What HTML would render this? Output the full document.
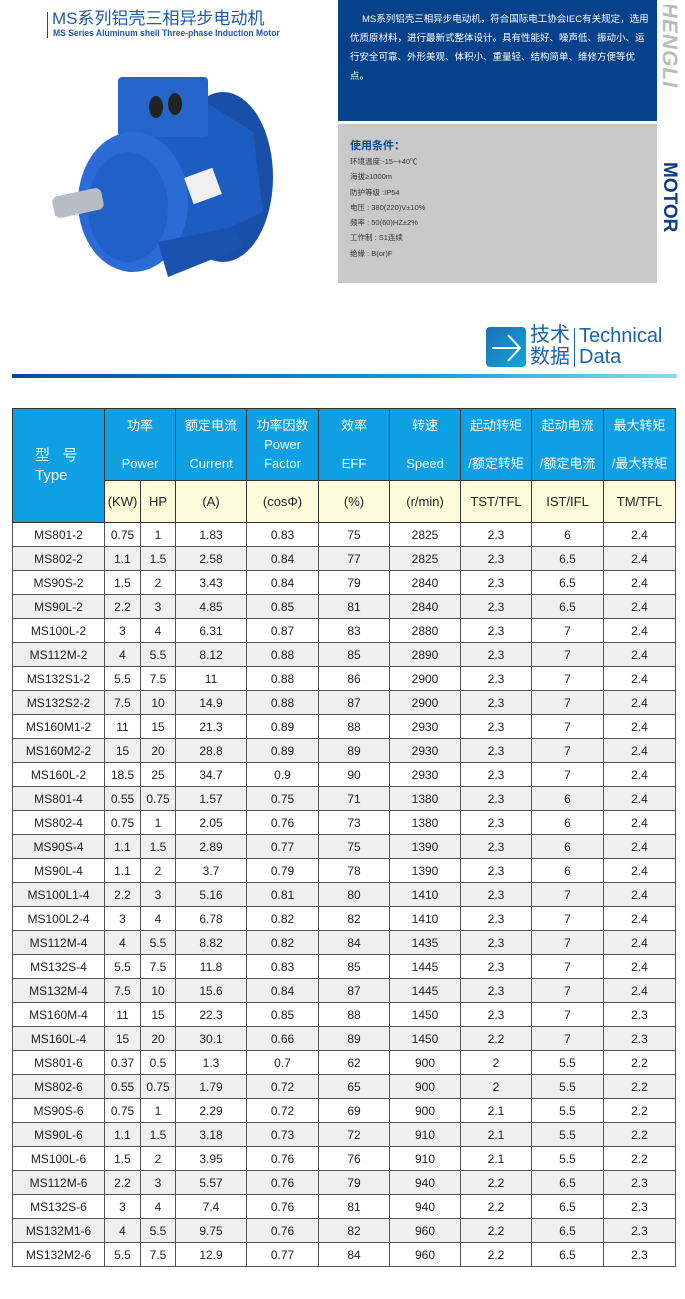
<!DOCTYPE html>
<html><head><meta charset="utf-8"><style>
*{margin:0;padding:0;box-sizing:border-box}
body{width:685px;height:1299px;background:#fff;position:relative;overflow:hidden;font-family:"Liberation Sans","Noto Sans CJK SC",sans-serif}
.abs{position:absolute}
table{position:absolute;left:12px;top:408px;width:663px;border-collapse:collapse;table-layout:fixed}
td{border:1px solid #555;text-align:center;font-size:12px;color:#222;padding:0;white-space:nowrap;line-height:14px}
tr.h1 td{background:#0ea0e2;color:#fff;font-size:13px;line-height:19px;border-color:#333}
tr.h2 td{background:#fdfbd9;color:#222;font-size:13px;border-color:#333}
tbody.d td{height:24px}
tbody.d tr:nth-child(even) td{background:#efefef}
</style></head><body>
<div class="abs" style="left:47px;top:12px;width:1px;height:26px;background:#444"></div>
<div class="abs" style="left:52px;top:9px;font-size:17px;line-height:20px;color:#1f5aa6">MS系列铝壳三相异步电动机</div>
<div class="abs" style="left:53px;top:29px;font-size:9.5px;line-height:10px;color:#1f5aa6;font-weight:bold;transform:scaleX(.9);transform-origin:left">MS Series Aluminum shell Three-phase Induction Motor</div>
<svg class="abs" style="left:48px;top:62px" width="230" height="220" viewBox="0 0 230 220">
<ellipse cx="175" cy="115" rx="50" ry="85" fill="#1a4fa8"/>
<path d="M40 110 L150 35 L205 70 L215 150 L130 190 Z" fill="#1d5cc0"/>
<rect x="70" y="15" width="90" height="60" rx="4" fill="#2565c9"/>
<ellipse cx="108" cy="45" rx="7" ry="11" fill="#222"/><ellipse cx="127" cy="42" rx="7" ry="11" fill="#222"/>
<ellipse cx="85" cy="140" rx="55" ry="70" fill="#2a6bd6"/>
<ellipse cx="80" cy="145" rx="40" ry="55" fill="#2060c8"/>
<rect x="140" y="110" width="30" height="28" fill="#f0f0f0" transform="rotate(-20 155 124)"/>
<rect x="5" y="130" width="50" height="22" rx="6" fill="#b8bcc4" transform="rotate(-12 30 141)"/>
<path d="M110 180 L185 165 L195 185 L120 215 Z" fill="#1a52b0"/>
</svg>
<div class="abs" style="left:338px;top:0;width:319px;height:121px;background:#06418c"></div>
<div class="abs" style="left:350px;top:10px;width:300px;font-size:9.5px;line-height:19px;color:#fff;text-indent:12px">MS系列铝壳三相异步电动机，符合国际电工协会IEC有关规定，选用优质原材料，进行最新式整体设计。具有性能好、噪声低、振动小、运行安全可靠、外形美观、体积小、重量轻、结构简单、维修方便等优点。</div>
<div class="abs" style="left:338px;top:124px;width:319px;height:159px;background:#c9c9c9"></div>
<div class="abs" style="left:350px;top:137px;font-size:11px;color:#0a4a96;font-weight:bold">使用条件：</div>
<div class="abs" style="left:350px;top:154px;font-size:7.5px;line-height:15.3px;color:#333">环境温度:-15~+40℃<br>海拔≥1000m<br>防护等级 :IP54<br>电压 : 380(220)V±10%<br>频率 : 50(60)HZ±2%<br>工作制 : S1连续<br>绝缘 : B(or)F</div>
<div class="abs" style="left:658px;top:5px;width:24px;height:108px;overflow:hidden"><div style="transform:rotate(90deg) skewX(-10deg);transform-origin:0 0;position:absolute;left:23px;top:0;font-size:21px;font-weight:bold;color:#bbb;white-space:nowrap;letter-spacing:1px">HENGLI</div></div>
<div class="abs" style="left:658px;top:162px;width:24px;height:82px;overflow:hidden"><div style="transform:rotate(90deg);transform-origin:0 0;position:absolute;left:22px;top:0;font-size:19px;font-weight:bold;color:#0a3f86;white-space:nowrap">MOTOR</div></div>
<div class="abs" style="left:486px;top:327px;width:40px;height:40px;border-radius:4px;background:linear-gradient(135deg,#1b6fb8,#10a6d6)"></div>
<svg class="abs" style="left:486px;top:327px" width="40" height="40"><path d="M6 21 H34 M22 8 L34 21 L22 34" stroke="#fff" stroke-width="2" fill="none"/></svg>
<div class="abs" style="left:530px;top:324px;font-size:20px;line-height:22px;color:#1b62a8">技术<br>数据</div>
<div class="abs" style="left:574px;top:328px;width:1px;height:39px;background:#1b62a8"></div>
<div class="abs" style="left:579px;top:326px;font-size:20px;line-height:21px;color:#1b62a8">Technical<br>Data</div>
<div class="abs" style="left:12px;top:374px;width:665px;height:4px;background:linear-gradient(90deg,#0a4a96,#0f9ad6 60%,#8fd8f0)"></div>
<table>
<colgroup><col style="width:92px"><col style="width:36px"><col style="width:35px"><col style="width:71px"><col style="width:72px"><col style="width:71px"><col style="width:71px"><col style="width:71px"><col style="width:72px"><col style="width:72px"></colgroup>
<tbody>
<tr class="h1"><td rowspan="2" style="background:#0ea0e2;color:#fff;font-size:15px;line-height:20px;text-align:left;padding-left:22px">型&nbsp;&nbsp;&nbsp;号<br>Type</td><td colspan="2" style="height:72px">功率<br><br>Power</td><td>额定电流<br><br>Current</td><td>功率因数<br>Power<br>Factor</td><td>效率<br><br>EFF</td><td>转速<br><br>Speed</td><td>起动转矩<br><br>/额定转矩</td><td>起动电流<br><br>/额定电流</td><td>最大转矩<br><br>/最大转矩</td></tr>
<tr class="h2"><td style="height:42px">(KW)</td><td>HP</td><td>(A)</td><td>(cosΦ)</td><td>(%)</td><td>(r/min)</td><td>TST/TFL</td><td>IST/IFL</td><td>TM/TFL</td></tr>
</tbody>
<tbody class="d">
<tr><td>MS801-2</td><td>0.75</td><td>1</td><td>1.83</td><td>0.83</td><td>75</td><td>2825</td><td>2.3</td><td>6</td><td>2.4</td></tr>
<tr><td>MS802-2</td><td>1.1</td><td>1.5</td><td>2.58</td><td>0.84</td><td>77</td><td>2825</td><td>2.3</td><td>6.5</td><td>2.4</td></tr>
<tr><td>MS90S-2</td><td>1.5</td><td>2</td><td>3.43</td><td>0.84</td><td>79</td><td>2840</td><td>2.3</td><td>6.5</td><td>2.4</td></tr>
<tr><td>MS90L-2</td><td>2.2</td><td>3</td><td>4.85</td><td>0.85</td><td>81</td><td>2840</td><td>2.3</td><td>6.5</td><td>2.4</td></tr>
<tr><td>MS100L-2</td><td>3</td><td>4</td><td>6.31</td><td>0.87</td><td>83</td><td>2880</td><td>2.3</td><td>7</td><td>2.4</td></tr>
<tr><td>MS112M-2</td><td>4</td><td>5.5</td><td>8.12</td><td>0.88</td><td>85</td><td>2890</td><td>2.3</td><td>7</td><td>2.4</td></tr>
<tr><td>MS132S1-2</td><td>5.5</td><td>7.5</td><td>11</td><td>0.88</td><td>86</td><td>2900</td><td>2.3</td><td>7</td><td>2.4</td></tr>
<tr><td>MS132S2-2</td><td>7.5</td><td>10</td><td>14.9</td><td>0.88</td><td>87</td><td>2900</td><td>2.3</td><td>7</td><td>2.4</td></tr>
<tr><td>MS160M1-2</td><td>11</td><td>15</td><td>21.3</td><td>0.89</td><td>88</td><td>2930</td><td>2.3</td><td>7</td><td>2.4</td></tr>
<tr><td>MS160M2-2</td><td>15</td><td>20</td><td>28.8</td><td>0.89</td><td>89</td><td>2930</td><td>2.3</td><td>7</td><td>2.4</td></tr>
<tr><td>MS160L-2</td><td>18.5</td><td>25</td><td>34.7</td><td>0.9</td><td>90</td><td>2930</td><td>2.3</td><td>7</td><td>2.4</td></tr>
<tr><td>MS801-4</td><td>0.55</td><td>0.75</td><td>1.57</td><td>0.75</td><td>71</td><td>1380</td><td>2.3</td><td>6</td><td>2.4</td></tr>
<tr><td>MS802-4</td><td>0.75</td><td>1</td><td>2.05</td><td>0.76</td><td>73</td><td>1380</td><td>2.3</td><td>6</td><td>2.4</td></tr>
<tr><td>MS90S-4</td><td>1.1</td><td>1.5</td><td>2.89</td><td>0.77</td><td>75</td><td>1390</td><td>2.3</td><td>6</td><td>2.4</td></tr>
<tr><td>MS90L-4</td><td>1.1</td><td>2</td><td>3.7</td><td>0.79</td><td>78</td><td>1390</td><td>2.3</td><td>6</td><td>2.4</td></tr>
<tr><td>MS100L1-4</td><td>2.2</td><td>3</td><td>5.16</td><td>0.81</td><td>80</td><td>1410</td><td>2.3</td><td>7</td><td>2.4</td></tr>
<tr><td>MS100L2-4</td><td>3</td><td>4</td><td>6.78</td><td>0.82</td><td>82</td><td>1410</td><td>2.3</td><td>7</td><td>2.4</td></tr>
<tr><td>MS112M-4</td><td>4</td><td>5.5</td><td>8.82</td><td>0.82</td><td>84</td><td>1435</td><td>2.3</td><td>7</td><td>2.4</td></tr>
<tr><td>MS132S-4</td><td>5.5</td><td>7.5</td><td>11.8</td><td>0.83</td><td>85</td><td>1445</td><td>2.3</td><td>7</td><td>2.4</td></tr>
<tr><td>MS132M-4</td><td>7.5</td><td>10</td><td>15.6</td><td>0.84</td><td>87</td><td>1445</td><td>2.3</td><td>7</td><td>2.4</td></tr>
<tr><td>MS160M-4</td><td>11</td><td>15</td><td>22.3</td><td>0.85</td><td>88</td><td>1450</td><td>2.3</td><td>7</td><td>2.3</td></tr>
<tr><td>MS160L-4</td><td>15</td><td>20</td><td>30.1</td><td>0.66</td><td>89</td><td>1450</td><td>2.2</td><td>7</td><td>2.3</td></tr>
<tr><td>MS801-6</td><td>0.37</td><td>0.5</td><td>1.3</td><td>0.7</td><td>62</td><td>900</td><td>2</td><td>5.5</td><td>2.2</td></tr>
<tr><td>MS802-6</td><td>0.55</td><td>0.75</td><td>1.79</td><td>0.72</td><td>65</td><td>900</td><td>2</td><td>5.5</td><td>2.2</td></tr>
<tr><td>MS90S-6</td><td>0.75</td><td>1</td><td>2.29</td><td>0.72</td><td>69</td><td>900</td><td>2.1</td><td>5.5</td><td>2.2</td></tr>
<tr><td>MS90L-6</td><td>1.1</td><td>1.5</td><td>3.18</td><td>0.73</td><td>72</td><td>910</td><td>2.1</td><td>5.5</td><td>2.2</td></tr>
<tr><td>MS100L-6</td><td>1.5</td><td>2</td><td>3.95</td><td>0.76</td><td>76</td><td>910</td><td>2.1</td><td>5.5</td><td>2.2</td></tr>
<tr><td>MS112M-6</td><td>2.2</td><td>3</td><td>5.57</td><td>0.76</td><td>79</td><td>940</td><td>2.2</td><td>6.5</td><td>2.3</td></tr>
<tr><td>MS132S-6</td><td>3</td><td>4</td><td>7.4</td><td>0.76</td><td>81</td><td>940</td><td>2.2</td><td>6.5</td><td>2.3</td></tr>
<tr><td>MS132M1-6</td><td>4</td><td>5.5</td><td>9.75</td><td>0.76</td><td>82</td><td>960</td><td>2.2</td><td>6.5</td><td>2.3</td></tr>
<tr><td>MS132M2-6</td><td>5.5</td><td>7.5</td><td>12.9</td><td>0.77</td><td>84</td><td>960</td><td>2.2</td><td>6.5</td><td>2.3</td></tr>
</tbody>
</table>
</body></html>
